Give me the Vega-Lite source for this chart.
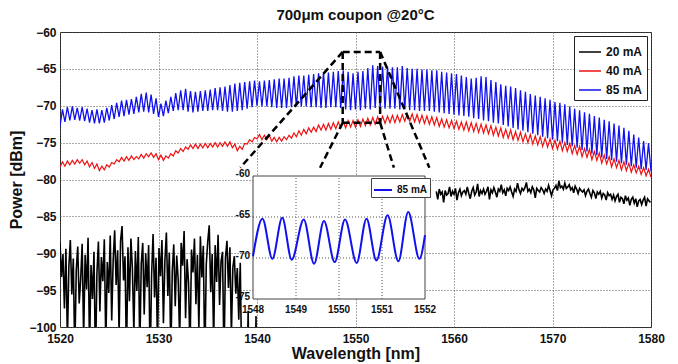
{
"$schema":"https://vega.github.io/schema/vega-lite/v6.json",
"width":591,"height":295,"autosize":"none",
"padding":{"left":60,"top":32,"right":27,"bottom":37},
"background":"white",
"title":{"text":"700μm coupon @20°C","font":"Liberation Sans","fontSize":15,"fontWeight":"bold","color":"#111","offset":3,"anchor":"middle"},
"config":{"view":{"stroke":"#222","strokeWidth":1},"font":"Liberation Sans",
"axis":{"grid":true,"gridDash":[1,2],"gridColor":"#555","domain":false,"ticks":false,"labelOverlap":false,"labelFont":"Liberation Sans","labelFontWeight":"bold","labelFontSize":12,"labelColor":"#111","titleFont":"Liberation Sans","titleFontSize":16,"titleFontWeight":"bold","titleColor":"#111","format":"d"},
"axisX":{"labelFlush":false,"labelPadding":6,"titlePadding":1},
"axisY":{"labelPadding":4,"titlePadding":4,"tickCount":9}},
"datasets":{
"br":[
{"w":1520,"b":-72.8,"r":-78.3},{"w":1520.25,"b":-70.5,"r":-77.6},{"w":1520.5,"b":-72.2,"r":-78.2},{"w":1520.75,"b":-70.2,"r":-77.5},
{"w":1521,"b":-72.0,"r":-78.0},{"w":1521.25,"b":-70.1,"r":-77.4},{"w":1521.5,"b":-71.9,"r":-77.9},{"w":1521.75,"b":-70.3,"r":-77.3},
{"w":1522,"b":-72.0,"r":-77.8},{"w":1522.25,"b":-70.2,"r":-77.3},{"w":1522.5,"b":-72.1,"r":-78.0},{"w":1522.75,"b":-70.4,"r":-77.5},
{"w":1523,"b":-72.3,"r":-78.3},{"w":1523.25,"b":-70.6,"r":-77.7},{"w":1523.5,"b":-72.4,"r":-78.5},{"w":1523.75,"b":-70.5,"r":-77.9},
{"w":1524,"b":-72.4,"r":-78.8},{"w":1524.25,"b":-70.6,"r":-78.2},{"w":1524.5,"b":-72.3,"r":-78.7},{"w":1524.75,"b":-70.3,"r":-78.0},
{"w":1525,"b":-72.0,"r":-78.3},{"w":1525.25,"b":-69.9,"r":-77.7},{"w":1525.5,"b":-71.8,"r":-77.9},{"w":1525.75,"b":-69.6,"r":-77.3},
{"w":1526,"b":-71.5,"r":-77.6},{"w":1526.25,"b":-69.3,"r":-77.0},{"w":1526.5,"b":-71.4,"r":-77.5},{"w":1526.75,"b":-69.2,"r":-76.9},
{"w":1527,"b":-71.2,"r":-77.4},{"w":1527.25,"b":-69.1,"r":-76.8},{"w":1527.5,"b":-71.1,"r":-77.3},{"w":1527.75,"b":-68.8,"r":-76.9},
{"w":1528,"b":-70.9,"r":-77.2},{"w":1528.25,"b":-68.4,"r":-76.6},{"w":1528.5,"b":-70.8,"r":-77.1},{"w":1528.75,"b":-68.2,"r":-76.5},
{"w":1529,"b":-70.9,"r":-76.9},{"w":1529.25,"b":-68.5,"r":-76.4},{"w":1529.5,"b":-71.1,"r":-77.0},{"w":1529.75,"b":-69.0,"r":-76.5},
{"w":1530,"b":-71.5,"r":-77.3},{"w":1530.25,"b":-69.7,"r":-76.7},{"w":1530.5,"b":-71.4,"r":-77.4},{"w":1530.75,"b":-69.3,"r":-76.8},
{"w":1531,"b":-71.0,"r":-77.1},{"w":1531.25,"b":-68.8,"r":-76.5},{"w":1531.5,"b":-70.7,"r":-76.8},{"w":1531.75,"b":-68.3,"r":-76.1},
{"w":1532,"b":-70.6,"r":-76.4},{"w":1532.25,"b":-67.9,"r":-75.8},{"w":1532.5,"b":-70.6,"r":-76.2},{"w":1532.75,"b":-67.7,"r":-75.6},
{"w":1533,"b":-70.8,"r":-75.9},{"w":1533.25,"b":-68.0,"r":-75.3},{"w":1533.5,"b":-70.9,"r":-75.8},{"w":1533.75,"b":-68.1,"r":-75.2},
{"w":1534,"b":-70.8,"r":-75.8},{"w":1534.25,"b":-68.0,"r":-75.2},{"w":1534.5,"b":-70.7,"r":-75.7},{"w":1534.75,"b":-67.9,"r":-75.1},
{"w":1535,"b":-70.7,"r":-75.7},{"w":1535.25,"b":-67.8,"r":-75.1},{"w":1535.5,"b":-70.6,"r":-75.6},{"w":1535.75,"b":-67.6,"r":-75.0},
{"w":1536,"b":-70.6,"r":-75.6},{"w":1536.25,"b":-67.5,"r":-75.0},{"w":1536.5,"b":-70.7,"r":-75.5},{"w":1536.75,"b":-67.4,"r":-74.9},
{"w":1537,"b":-70.8,"r":-75.5},{"w":1537.25,"b":-67.2,"r":-74.9},{"w":1537.5,"b":-70.8,"r":-75.7},{"w":1537.75,"b":-67.0,"r":-75.2},
{"w":1538,"b":-70.7,"r":-76.1},{"w":1538.25,"b":-66.9,"r":-75.5},{"w":1538.5,"b":-70.6,"r":-75.9},{"w":1538.75,"b":-66.8,"r":-75.1},
{"w":1539,"b":-70.4,"r":-75.2},{"w":1539.25,"b":-66.7,"r":-74.6},{"w":1539.5,"b":-70.2,"r":-74.9},{"w":1539.75,"b":-66.6,"r":-74.3},
{"w":1540,"b":-70.0,"r":-74.5},{"w":1540.25,"b":-66.7,"r":-73.9},{"w":1540.5,"b":-70.1,"r":-74.6},{"w":1540.75,"b":-66.6,"r":-74.0},
{"w":1541,"b":-70.1,"r":-74.6},{"w":1541.25,"b":-66.5,"r":-74.0},{"w":1541.5,"b":-70.2,"r":-74.8},{"w":1541.75,"b":-66.4,"r":-74.3},
{"w":1542,"b":-70.3,"r":-74.9},{"w":1542.25,"b":-66.3,"r":-74.3},{"w":1542.5,"b":-70.3,"r":-74.8},{"w":1542.75,"b":-66.3,"r":-74.2},
{"w":1543,"b":-70.3,"r":-74.6},{"w":1543.25,"b":-66.2,"r":-74.0},{"w":1543.5,"b":-70.2,"r":-74.4},{"w":1543.75,"b":-66.0,"r":-73.7},
{"w":1544,"b":-70.1,"r":-74.2},{"w":1544.25,"b":-65.9,"r":-73.4},{"w":1544.5,"b":-70.1,"r":-74.0},{"w":1544.75,"b":-65.9,"r":-73.2},
{"w":1545,"b":-70.1,"r":-73.8},{"w":1545.25,"b":-65.8,"r":-73.0},{"w":1545.5,"b":-70.2,"r":-73.6},{"w":1545.75,"b":-65.7,"r":-72.9},
{"w":1546,"b":-70.2,"r":-73.5},{"w":1546.25,"b":-65.6,"r":-72.6},{"w":1546.5,"b":-70.3,"r":-73.3},{"w":1546.75,"b":-65.5,"r":-72.5},
{"w":1547,"b":-70.3,"r":-73.3},{"w":1547.25,"b":-65.5,"r":-72.4},{"w":1547.5,"b":-70.2,"r":-73.2},{"w":1547.75,"b":-65.4,"r":-72.3},
{"w":1548,"b":-70.2,"r":-73.1},{"w":1548.25,"b":-65.3,"r":-72.2},{"w":1548.5,"b":-70.3,"r":-73.0},{"w":1548.75,"b":-65.2,"r":-72.1},
{"w":1549,"b":-70.5,"r":-73.0},{"w":1549.25,"b":-65.4,"r":-72.0},{"w":1549.5,"b":-70.6,"r":-72.9},{"w":1549.75,"b":-65.6,"r":-72.0},
{"w":1550,"b":-70.5,"r":-72.9},{"w":1550.25,"b":-65.4,"r":-71.9},{"w":1550.5,"b":-70.6,"r":-72.8},{"w":1550.75,"b":-65.3,"r":-71.8},
{"w":1551,"b":-70.4,"r":-72.7},{"w":1551.25,"b":-64.9,"r":-71.7},{"w":1551.5,"b":-70.5,"r":-72.6},{"w":1551.75,"b":-64.5,"r":-71.6},
{"w":1552,"b":-70.3,"r":-72.5},{"w":1552.25,"b":-64.6,"r":-71.5},{"w":1552.5,"b":-70.3,"r":-72.4},{"w":1552.75,"b":-64.7,"r":-71.4},
{"w":1553,"b":-70.4,"r":-72.4},{"w":1553.25,"b":-64.7,"r":-71.4},{"w":1553.5,"b":-70.4,"r":-72.3},{"w":1553.75,"b":-64.8,"r":-71.3},
{"w":1554,"b":-70.4,"r":-72.3},{"w":1554.25,"b":-64.8,"r":-71.3},{"w":1554.5,"b":-70.5,"r":-72.2},{"w":1554.75,"b":-64.6,"r":-71.2},
{"w":1555,"b":-70.5,"r":-72.1},{"w":1555.25,"b":-64.9,"r":-71.1},{"w":1555.5,"b":-70.6,"r":-72.1},{"w":1555.75,"b":-65.0,"r":-71.1},
{"w":1556,"b":-70.6,"r":-72.2},{"w":1556.25,"b":-65.0,"r":-71.2},{"w":1556.5,"b":-70.7,"r":-72.3},{"w":1556.75,"b":-65.1,"r":-71.3},
{"w":1557,"b":-70.7,"r":-72.4},{"w":1557.25,"b":-65.1,"r":-71.4},{"w":1557.5,"b":-70.7,"r":-72.5},{"w":1557.75,"b":-65.2,"r":-71.5},
{"w":1558,"b":-70.8,"r":-72.6},{"w":1558.25,"b":-65.2,"r":-71.6},{"w":1558.5,"b":-70.9,"r":-72.8},{"w":1558.75,"b":-65.4,"r":-71.8},
{"w":1559,"b":-71.0,"r":-72.9},{"w":1559.25,"b":-65.5,"r":-71.9},{"w":1559.5,"b":-71.1,"r":-73.0},{"w":1559.75,"b":-65.6,"r":-72.0},
{"w":1560,"b":-71.2,"r":-73.1},{"w":1560.25,"b":-65.7,"r":-72.1},{"w":1560.5,"b":-71.3,"r":-73.2},{"w":1560.75,"b":-65.9,"r":-72.2},
{"w":1561,"b":-71.4,"r":-73.3},{"w":1561.25,"b":-66.1,"r":-72.2},{"w":1561.5,"b":-71.5,"r":-73.4},{"w":1561.75,"b":-66.3,"r":-72.3},
{"w":1562,"b":-71.7,"r":-73.5},{"w":1562.25,"b":-66.2,"r":-72.4},{"w":1562.5,"b":-71.8,"r":-73.6},{"w":1562.75,"b":-66.0,"r":-72.5},
{"w":1563,"b":-72.0,"r":-73.7},{"w":1563.25,"b":-66.1,"r":-72.6},{"w":1563.5,"b":-72.1,"r":-73.8},{"w":1563.75,"b":-66.5,"r":-72.7},
{"w":1564,"b":-72.3,"r":-74.0},{"w":1564.25,"b":-66.8,"r":-72.9},{"w":1564.5,"b":-72.4,"r":-74.1},{"w":1564.75,"b":-67.1,"r":-73.0},
{"w":1565,"b":-72.6,"r":-74.3},{"w":1565.25,"b":-67.3,"r":-73.2},{"w":1565.5,"b":-72.8,"r":-74.4},{"w":1565.75,"b":-67.4,"r":-73.3},
{"w":1566,"b":-73.0,"r":-74.6},{"w":1566.25,"b":-67.6,"r":-73.5},{"w":1566.5,"b":-73.2,"r":-74.7},{"w":1566.75,"b":-67.9,"r":-73.6},
{"w":1567,"b":-73.4,"r":-74.9},{"w":1567.25,"b":-68.1,"r":-73.8},{"w":1567.5,"b":-73.6,"r":-75.0},{"w":1567.75,"b":-68.4,"r":-73.9},
{"w":1568,"b":-73.8,"r":-75.2},{"w":1568.25,"b":-68.6,"r":-74.1},{"w":1568.5,"b":-74.0,"r":-75.3},{"w":1568.75,"b":-68.8,"r":-74.2},
{"w":1569,"b":-74.2,"r":-75.5},{"w":1569.25,"b":-69.0,"r":-74.4},{"w":1569.5,"b":-74.4,"r":-75.6},{"w":1569.75,"b":-69.2,"r":-74.5},
{"w":1570,"b":-74.6,"r":-75.8},{"w":1570.25,"b":-69.5,"r":-74.7},{"w":1570.5,"b":-74.8,"r":-75.9},{"w":1570.75,"b":-69.6,"r":-74.8},
{"w":1571,"b":-75.0,"r":-76.1},{"w":1571.25,"b":-69.8,"r":-75.0},{"w":1571.5,"b":-75.3,"r":-76.2},{"w":1571.75,"b":-70.1,"r":-75.1},
{"w":1572,"b":-75.5,"r":-76.5},{"w":1572.25,"b":-70.4,"r":-75.4},{"w":1572.5,"b":-75.7,"r":-76.6},{"w":1572.75,"b":-70.6,"r":-75.5},
{"w":1573,"b":-76.0,"r":-76.9},{"w":1573.25,"b":-70.9,"r":-75.8},{"w":1573.5,"b":-76.2,"r":-77.0},{"w":1573.75,"b":-71.1,"r":-75.9},
{"w":1574,"b":-76.5,"r":-77.3},{"w":1574.25,"b":-71.4,"r":-76.2},{"w":1574.5,"b":-76.7,"r":-77.4},{"w":1574.75,"b":-71.6,"r":-76.4},
{"w":1575,"b":-77.0,"r":-77.8},{"w":1575.25,"b":-71.9,"r":-76.7},{"w":1575.5,"b":-77.2,"r":-77.9},{"w":1575.75,"b":-72.1,"r":-76.9},
{"w":1576,"b":-77.4,"r":-78.3},{"w":1576.25,"b":-72.4,"r":-77.2},{"w":1576.5,"b":-77.6,"r":-78.4},{"w":1576.75,"b":-72.7,"r":-77.4},
{"w":1577,"b":-77.8,"r":-78.7},{"w":1577.25,"b":-73.0,"r":-77.6},{"w":1577.5,"b":-78.0,"r":-78.8},{"w":1577.75,"b":-73.4,"r":-77.8},
{"w":1578,"b":-78.2,"r":-79.0},{"w":1578.25,"b":-73.9,"r":-78.0},{"w":1578.5,"b":-78.4,"r":-79.1},{"w":1578.75,"b":-74.3,"r":-78.2},
{"w":1579,"b":-78.6,"r":-79.3},{"w":1579.25,"b":-74.8,"r":-78.4},{"w":1579.5,"b":-78.7,"r":-79.5},{"w":1579.75,"b":-75.1,"r":-78.6},
{"w":1580,"b":-78.9,"r":-79.7}
],
"k1":[
{"w":1520.00,"k":-88.5},{"w":1520.15,"k":-93.2},{"w":1520.30,"k":-90.1},{"w":1520.45,"k":-97.5},{"w":1520.60,"k":-89.4},{"w":1520.75,"k":-102.0},{"w":1520.90,"k":-91.8},{"w":1521.05,"k":-88.2},{"w":1521.20,"k":-95.6},{"w":1521.35,"k":-90.7},
{"w":1521.50,"k":-104.0},{"w":1521.65,"k":-92.3},{"w":1521.80,"k":-89.1},{"w":1521.95,"k":-96.8},{"w":1522.10,"k":-93.5},{"w":1522.25,"k":-88.7},{"w":1522.40,"k":-101.5},{"w":1522.55,"k":-90.2},{"w":1522.70,"k":-94.9},{"w":1522.85,"k":-87.9},
{"w":1523.00,"k":-103.0},{"w":1523.15,"k":-91.6},{"w":1523.30,"k":-96.2},{"w":1523.45,"k":-89.8},{"w":1523.60,"k":-105.0},{"w":1523.75,"k":-92.7},{"w":1523.90,"k":-88.4},{"w":1524.05,"k":-97.9},{"w":1524.20,"k":-90.5},{"w":1524.35,"k":-93.8},
{"w":1524.50,"k":-88.1},{"w":1524.65,"k":-102.5},{"w":1524.80,"k":-91.2},{"w":1524.95,"k":-95.4},{"w":1525.10,"k":-87.6},{"w":1525.25,"k":-99.1},{"w":1525.40,"k":-90.9},{"w":1525.55,"k":-86.9},{"w":1525.70,"k":-94.3},{"w":1525.85,"k":-89.6},
{"w":1526.00,"k":-101.0},{"w":1526.15,"k":-88.3},{"w":1526.30,"k":-86.3},{"w":1526.45,"k":-93.7},{"w":1526.60,"k":-90.4},{"w":1526.75,"k":-104.5},{"w":1526.90,"k":-89.2},{"w":1527.05,"k":-96.5},{"w":1527.20,"k":-88.0},{"w":1527.35,"k":-92.1},
{"w":1527.50,"k":-100.8},{"w":1527.65,"k":-89.7},{"w":1527.80,"k":-95.1},{"w":1527.95,"k":-87.8},{"w":1528.10,"k":-103.2},{"w":1528.25,"k":-91.4},{"w":1528.40,"k":-88.6},{"w":1528.55,"k":-98.3},{"w":1528.70,"k":-90.0},{"w":1528.85,"k":-94.6},
{"w":1529.00,"k":-88.9},{"w":1529.15,"k":-105.5},{"w":1529.30,"k":-92.9},{"w":1529.45,"k":-87.4},{"w":1529.60,"k":-96.0},{"w":1529.75,"k":-90.6},{"w":1529.90,"k":-102.8},{"w":1530.05,"k":-89.3},{"w":1530.20,"k":-93.1},{"w":1530.35,"k":-88.2},
{"w":1530.50,"k":-99.5},{"w":1530.65,"k":-91.0},{"w":1530.80,"k":-87.2},{"w":1530.95,"k":-95.8},{"w":1531.10,"k":-89.9},{"w":1531.25,"k":-104.1},{"w":1531.40,"k":-92.4},{"w":1531.55,"k":-88.8},{"w":1531.70,"k":-97.2},{"w":1531.85,"k":-90.3},
{"w":1532.00,"k":-93.6},{"w":1532.15,"k":-101.9},{"w":1532.30,"k":-88.6},{"w":1532.45,"k":-91.7},{"w":1532.60,"k":-87.0},{"w":1532.75,"k":-98.8},{"w":1532.90,"k":-90.8},{"w":1533.05,"k":-94.0},{"w":1533.20,"k":-103.6},{"w":1533.35,"k":-89.5},
{"w":1533.50,"k":-92.6},{"w":1533.65,"k":-88.0},{"w":1533.80,"k":-96.9},{"w":1533.95,"k":-90.2},{"w":1534.10,"k":-100.3},{"w":1534.25,"k":-87.7},{"w":1534.40,"k":-93.3},{"w":1534.55,"k":-89.0},{"w":1534.70,"k":-105.2},{"w":1534.85,"k":-91.5},
{"w":1535.00,"k":-88.4},{"w":1535.15,"k":-86.2},{"w":1535.30,"k":-95.3},{"w":1535.45,"k":-90.1},{"w":1535.60,"k":-102.2},{"w":1535.75,"k":-88.9},{"w":1535.90,"k":-93.9},{"w":1536.05,"k":-87.5},{"w":1536.20,"k":-97.0},{"w":1536.35,"k":-91.1},
{"w":1536.50,"k":-89.8},{"w":1536.65,"k":-104.8},{"w":1536.80,"k":-90.6},{"w":1536.95,"k":-88.3},{"w":1537.10,"k":-94.7},{"w":1537.25,"k":-89.2},{"w":1537.40,"k":-101.2},{"w":1537.55,"k":-91.9},{"w":1537.70,"k":-90.4},{"w":1537.85,"k":-95.5},
{"w":1538.00,"k":-92.0},{"w":1538.15,"k":-99.0},{"w":1538.30,"k":-91.3},{"w":1538.45,"k":-106.0},{"w":1538.70,"k":-110.0},{"w":1538.95,"k":-111.0},{"w":1539.10,"k":-97.8},{"w":1539.25,"k":-111.0},{"w":1539.75,"k":-112.0},{"w":1539.90,"k":-98.5},{"w":1540.05,"k":-112.0},{"w":1540.60,"k":-113.0}
],
"k2":[
{"w":1558.20,"k":-81.6},{"w":1558.35,"k":-82.7},{"w":1558.50,"k":-81.3},{"w":1558.65,"k":-82.0},{"w":1558.80,"k":-81.7},{"w":1558.95,"k":-83.1},{"w":1559.10,"k":-81.5},{"w":1559.25,"k":-82.1},{"w":1559.40,"k":-81.9},{"w":1559.55,"k":-81.0},
{"w":1559.70,"k":-82.3},{"w":1559.85,"k":-81.6},{"w":1560.00,"k":-82.0},{"w":1560.15,"k":-81.2},{"w":1560.30,"k":-82.8},{"w":1560.45,"k":-81.8},{"w":1560.60,"k":-81.3},{"w":1560.75,"k":-82.2},{"w":1560.90,"k":-81.7},{"w":1561.05,"k":-81.5},
{"w":1561.20,"k":-82.0},{"w":1561.35,"k":-81.0},{"w":1561.50,"k":-81.9},{"w":1561.65,"k":-82.6},{"w":1561.80,"k":-81.6},{"w":1561.95,"k":-81.1},{"w":1562.10,"k":-82.1},{"w":1562.25,"k":-81.7},{"w":1562.40,"k":-80.6},{"w":1562.55,"k":-82.3},
{"w":1562.70,"k":-81.5},{"w":1562.85,"k":-81.9},{"w":1563.00,"k":-81.3},{"w":1563.15,"k":-82.0},{"w":1563.30,"k":-81.6},{"w":1563.45,"k":-81.0},{"w":1563.60,"k":-82.7},{"w":1563.75,"k":-81.4},{"w":1563.90,"k":-81.8},{"w":1564.05,"k":-81.1},
{"w":1564.20,"k":-81.7},{"w":1564.35,"k":-82.4},{"w":1564.50,"k":-81.3},{"w":1564.65,"k":-81.6},{"w":1564.80,"k":-80.7},{"w":1564.95,"k":-81.8},{"w":1565.10,"k":-81.4},{"w":1565.25,"k":-82.2},{"w":1565.40,"k":-81.2},{"w":1565.55,"k":-81.5},
{"w":1565.70,"k":-81.0},{"w":1565.85,"k":-81.7},{"w":1566.00,"k":-82.3},{"w":1566.15,"k":-81.3},{"w":1566.30,"k":-81.6},{"w":1566.45,"k":-80.5},{"w":1566.60,"k":-81.4},{"w":1566.75,"k":-81.9},{"w":1566.90,"k":-81.2},{"w":1567.05,"k":-81.5},
{"w":1567.20,"k":-81.1},{"w":1567.35,"k":-80.4},{"w":1567.50,"k":-81.6},{"w":1567.65,"k":-81.3},{"w":1567.80,"k":-81.8},{"w":1567.95,"k":-81.0},{"w":1568.10,"k":-81.4},{"w":1568.25,"k":-82.5},{"w":1568.40,"k":-81.2},{"w":1568.55,"k":-81.5},
{"w":1568.70,"k":-81.7},{"w":1568.85,"k":-81.1},{"w":1569.00,"k":-81.4},{"w":1569.15,"k":-81.9},{"w":1569.30,"k":-81.3},{"w":1569.45,"k":-81.6},{"w":1569.60,"k":-80.8},{"w":1569.75,"k":-81.5},{"w":1569.90,"k":-82.2},{"w":1570.05,"k":-81.4},
{"w":1570.20,"k":-81.2},{"w":1570.35,"k":-80.8},{"w":1570.50,"k":-81.5},{"w":1570.65,"k":-80.2},{"w":1570.80,"k":-81.1},{"w":1570.95,"k":-80.9},{"w":1571.10,"k":-81.3},{"w":1571.25,"k":-80.5},{"w":1571.40,"k":-81.2},{"w":1571.55,"k":-81.0},
{"w":1571.70,"k":-80.7},{"w":1571.85,"k":-81.4},{"w":1572.00,"k":-81.1},{"w":1572.15,"k":-81.8},{"w":1572.30,"k":-80.9},{"w":1572.45,"k":-81.3},{"w":1572.60,"k":-81.9},{"w":1572.75,"k":-81.2},{"w":1572.90,"k":-81.5},{"w":1573.05,"k":-81.7},
{"w":1573.20,"k":-81.4},{"w":1573.35,"k":-82.2},{"w":1573.50,"k":-81.6},{"w":1573.65,"k":-81.3},{"w":1573.80,"k":-81.9},{"w":1573.95,"k":-82.4},{"w":1574.10,"k":-81.5},{"w":1574.25,"k":-81.8},{"w":1574.40,"k":-82.6},{"w":1574.55,"k":-81.7},
{"w":1574.70,"k":-82.0},{"w":1574.85,"k":-81.6},{"w":1575.00,"k":-82.5},{"w":1575.15,"k":-81.9},{"w":1575.30,"k":-82.1},{"w":1575.45,"k":-82.8},{"w":1575.60,"k":-81.8},{"w":1575.75,"k":-82.2},{"w":1575.90,"k":-82.0},{"w":1576.05,"k":-82.7},
{"w":1576.20,"k":-82.1},{"w":1576.35,"k":-82.9},{"w":1576.50,"k":-82.3},{"w":1576.65,"k":-82.0},{"w":1576.80,"k":-83.1},{"w":1576.95,"k":-82.4},{"w":1577.10,"k":-82.6},{"w":1577.25,"k":-83.3},{"w":1577.40,"k":-82.2},{"w":1577.55,"k":-82.8},
{"w":1577.70,"k":-82.5},{"w":1577.85,"k":-83.5},{"w":1578.00,"k":-82.7},{"w":1578.15,"k":-82.4},{"w":1578.30,"k":-83.2},{"w":1578.45,"k":-82.6},{"w":1578.60,"k":-83.7},{"w":1578.75,"k":-82.9},{"w":1578.90,"k":-82.7},{"w":1579.05,"k":-83.4},
{"w":1579.20,"k":-82.8},{"w":1579.35,"k":-82.4},{"w":1579.50,"k":-83.6},{"w":1579.65,"k":-82.6},{"w":1579.80,"k":-82.9},{"w":1579.95,"k":-83.1}
],
"dl":[
{"xa":1548.7,"ya":-62.7,"xb":1552.5,"yb":-62.7},
{"xa":1548.7,"ya":-62.7,"xb":1548.7,"yb":-72.3},
{"xa":1552.5,"ya":-62.7,"xb":1552.5,"yb":-72.3},
{"xa":1548.7,"ya":-72.3,"xb":1552.5,"yb":-72.3},
{"xa":1548.7,"ya":-62.7,"xb":1538.3,"yb":-78.4},
{"xa":1548.7,"ya":-72.3,"xb":1546.4,"yb":-78.4},
{"xa":1552.5,"ya":-72.3,"xb":1553.9,"yb":-78.4},
{"xa":1552.5,"ya":-62.7,"xb":1557.5,"yb":-78.4}
],
"ins":[
{"w":1548.00,"p":-69.8},{"w":1548.22,"p":-65.2},{"w":1548.45,"p":-70.1},{"w":1548.68,"p":-65.1},{"w":1548.90,"p":-70.2},{"w":1549.18,"p":-65.3},{"w":1549.42,"p":-70.7},{"w":1549.65,"p":-65.5},{"w":1549.90,"p":-70.5},{"w":1550.14,"p":-65.3},{"w":1550.41,"p":-70.6},{"w":1550.64,"p":-65.2},{"w":1550.87,"p":-70.3},{"w":1551.13,"p":-64.8},{"w":1551.38,"p":-70.4},{"w":1551.61,"p":-64.4},{"w":1551.87,"p":-70.1},{"w":1552.00,"p":-67.2}
],
"ig1":[{"w":1549},{"w":1550},{"w":1551}],
"ig2":[{"p":-65},{"p":-70}],
"ixl":[{"w":1548,"t":"1548"},{"w":1549,"t":"1549"},{"w":1550,"t":"1550"},{"w":1551,"t":"1551"},{"w":1552,"t":"1552"}],
"iyl":[{"p":-60,"t":"-60"},{"p":-65,"t":"-65"},{"p":-70,"t":"-70"},{"p":-75,"t":"-75"}]
},
"layer":[
{"layer":[
{"data":{"name":"br"},"mark":{"type":"line","strokeWidth":1.3,"clip":true},
"encoding":{
"x":{"field":"w","type":"quantitative","title":"Wavelength [nm]","scale":{"domain":[1520,1580],"nice":false,"zero":false},"axis":{"values":[1520,1530,1540,1550,1560,1570,1580]}},
"y":{"field":"b","type":"quantitative","title":"Power [dBm]","scale":{"domain":[-100,-60],"nice":false,"zero":false},"axis":{"values":[-100,-95,-90,-85,-80,-75,-70,-65,-60]}},
"color":{"datum":"85 mA","scale":{"domain":["20 mA","40 mA","85 mA"],"range":["#000000","#ee1111","#1111ee"]},
"legend":{"orient":"top-right","offset":4,"title":null,"symbolType":"stroke","symbolSize":484,"symbolStrokeWidth":1.5,"labelFont":"Liberation Sans","labelFontSize":12,"labelFontWeight":"bold","labelColor":"#111","rowPadding":1,"padding":4,"strokeColor":"#222","fillColor":"white"}}}},
{"data":{"name":"br"},"mark":{"type":"line","strokeWidth":1.2,"clip":true},
"encoding":{"x":{"field":"w","type":"quantitative","title":"Wavelength [nm]","axis":{"values":[1520,1530,1540,1550,1560,1570,1580]}},"y":{"field":"r","type":"quantitative","title":"Power [dBm]","axis":{"values":[-100,-95,-90,-85,-80,-75,-70,-65,-60]}},"color":{"datum":"40 mA"}}},
{"data":{"name":"k1"},"mark":{"type":"line","strokeWidth":1.6,"clip":true},
"encoding":{"x":{"field":"w","type":"quantitative","title":"Wavelength [nm]","axis":{"values":[1520,1530,1540,1550,1560,1570,1580]}},"y":{"field":"k","type":"quantitative","title":"Power [dBm]","axis":{"values":[-100,-95,-90,-85,-80,-75,-70,-65,-60]}},"color":{"datum":"20 mA"}}},
{"data":{"name":"k2"},"mark":{"type":"line","strokeWidth":1.6,"clip":true},
"encoding":{"x":{"field":"w","type":"quantitative","title":"Wavelength [nm]","axis":{"values":[1520,1530,1540,1550,1560,1570,1580]}},"y":{"field":"k","type":"quantitative","title":"Power [dBm]","axis":{"values":[-100,-95,-90,-85,-80,-75,-70,-65,-60]}},"color":{"datum":"20 mA"}}},
{"data":{"name":"dl"},"mark":{"type":"rule","strokeDash":[7,4],"strokeWidth":2.5,"color":"#000","clip":true},
"encoding":{"x":{"field":"xa","type":"quantitative","title":"Wavelength [nm]","axis":{"values":[1520,1530,1540,1550,1560,1570,1580]}},"x2":{"field":"xb"},"y":{"field":"ya","type":"quantitative","title":"Power [dBm]","axis":{"values":[-100,-95,-90,-85,-80,-75,-70,-65,-60]}},"y2":{"field":"yb"}}}
]},
{"layer":[
{"data":{"values":[{}]},"mark":{"type":"rect","fill":"white","stroke":"#444","strokeWidth":1},
"encoding":{"x":{"datum":1548,"type":"quantitative","axis":null},"x2":{"datum":1552},"y":{"datum":-75,"type":"quantitative","axis":null},"y2":{"datum":-60}}},
{"data":{"name":"ig1"},"mark":{"type":"rule","strokeDash":[1,2],"color":"#555","strokeWidth":1},
"encoding":{"x":{"field":"w","type":"quantitative","axis":null},"y":{"datum":-75,"type":"quantitative","axis":null},"y2":{"datum":-60}}},
{"data":{"name":"ig2"},"mark":{"type":"rule","strokeDash":[1,2],"color":"#555","strokeWidth":1},
"encoding":{"y":{"field":"p","type":"quantitative","axis":null},"x":{"datum":1548,"type":"quantitative","axis":null},"x2":{"datum":1552}}},
{"data":{"name":"ins"},"mark":{"type":"line","interpolate":"monotone","strokeWidth":2},
"encoding":{
"x":{"field":"w","type":"quantitative","axis":null,"scale":{"domain":[1548,1552],"range":[193,365],"nice":false,"zero":false}},
"y":{"field":"p","type":"quantitative","axis":null,"scale":{"domain":[-75,-60],"range":[267,144],"nice":false,"zero":false}},
"color":{"datum":"85 mA","scale":{"domain":["85 mA"],"range":["#1111ee"]},
"legend":{"orient":"none","legendX":311,"legendY":146,"title":null,"symbolType":"stroke","symbolSize":324,"symbolStrokeWidth":2,"labelFont":"Liberation Sans","labelFontSize":10,"labelFontWeight":"bold","labelColor":"#111","padding":2,"strokeColor":"#444","fillColor":"white"}}}},
{"data":{"name":"ixl"},"mark":{"type":"text","font":"Liberation Sans","fontSize":10,"fontWeight":"bold","color":"#111","baseline":"top","align":"center","dy":6},
"encoding":{"x":{"field":"w","type":"quantitative","axis":null},"y":{"datum":-75,"type":"quantitative","axis":null},"text":{"field":"t"}}},
{"data":{"name":"iyl"},"mark":{"type":"text","font":"Liberation Sans","fontSize":10,"fontWeight":"bold","color":"#111","baseline":"middle","align":"right","dx":-3,"dy":-2},
"encoding":{"y":{"field":"p","type":"quantitative","axis":null},"x":{"datum":1548,"type":"quantitative","axis":null},"text":{"field":"t"}}}
]}
],
"resolve":{"scale":{"x":"independent","y":"independent","color":"independent"},"axis":{"x":"independent","y":"independent"},"legend":{"color":"independent"}}
}
